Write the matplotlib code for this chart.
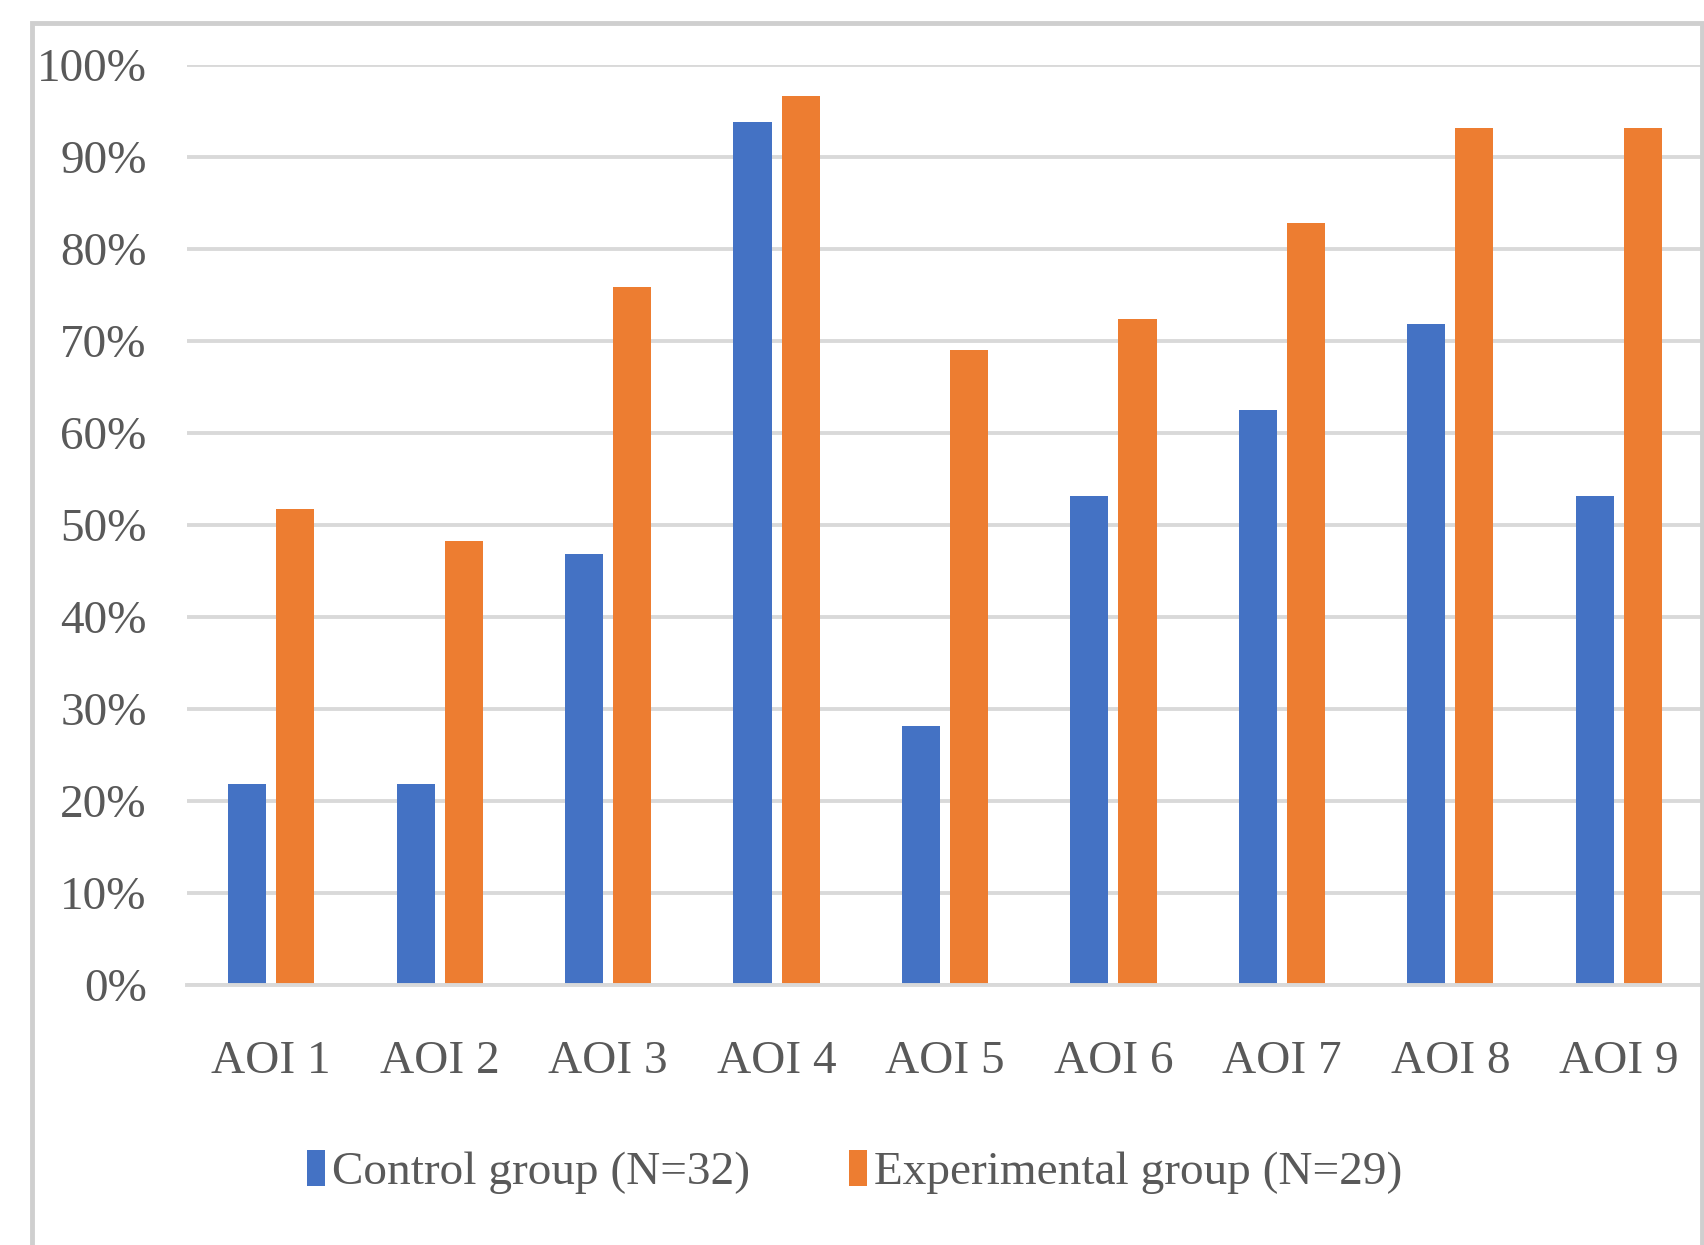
import numpy as np
import matplotlib.pyplot as plt
from matplotlib.patches import Rectangle
from matplotlib.ticker import FuncFormatter

# share of each group (%) per area of interest
aois = ["AOI 1", "AOI 2", "AOI 3", "AOI 4", "AOI 5", "AOI 6", "AOI 7", "AOI 8", "AOI 9"]
control = [21.9, 21.9, 46.9, 93.8, 28.1, 53.1, 62.5, 71.9, 53.1]
experimental = [51.7, 48.3, 75.9, 96.6, 69.0, 72.4, 82.8, 93.1, 93.1]
yticks = [0, 10, 20, 30, 40, 50, 60, 70, 80, 90, 100]

azul = "#4472C4"
laranja = "#ED7D31"
cinza_txt = "#595959"
cinza_grade = "#D9D9D9"

plt.rcParams['font.family'] = ['Liberation Serif', 'DejaVu Serif']

fig = plt.figure(figsize=(17.04, 12.45), dpi=100)
fig.patch.set_facecolor("white")

# chart area frame (open at the bottom)
moldura = Rectangle((32 / 1704, -0.05), (1702 - 32) / 1704, 1.05 - 23 / 1245,
                    transform=fig.transFigure, facecolor="none",
                    edgecolor="#CFCFCF", linewidth=3.5, zorder=0)
fig.patches.append(moldura)

ax = fig.add_axes([187 / 1704, 1 - 985 / 1245, (1703 - 187) / 1704, (985 - 65) / 1245])

x = np.arange(len(aois))
largura = 0.226
ax.bar(x - 0.143, control, width=largura, color=azul, label="Control group (N=32)", zorder=3)
ax.bar(x + 0.143, experimental, width=largura, color=laranja, label="Experimental group (N=29)", zorder=3)

ax.set_xlim(-0.5, len(aois) - 0.5)
ax.set_ylim(0, 100)
ax.set_yticks(yticks)
ax.yaxis.set_major_formatter(FuncFormatter(lambda v, p: f"{int(v)}%"))
ax.set_xticks(x)
ax.set_xticklabels(aois)

ax.grid(axis="y", color=cinza_grade, linewidth=2.8, zorder=0)
ax.set_axisbelow(True)
for lado in ["top", "right", "left"]:
    ax.spines[lado].set_visible(False)
ax.spines["bottom"].set_color(cinza_grade)
ax.spines["bottom"].set_linewidth(2.8)
ax.spines["bottom"].set_zorder(4)

ax.tick_params(axis="both", length=0, labelcolor=cinza_txt, labelsize=34)
ax.tick_params(axis="y", pad=29)
ax.tick_params(axis="x", pad=40)

fig.legend(loc="center", bbox_to_anchor=(855 / 1704, 1 - 1172 / 1245), ncol=2,
           frameon=False, fontsize=34, labelcolor=cinza_txt,
           handlelength=0.38, handleheight=0.8, handletextpad=0.15, columnspacing=2.1)

fig.savefig("out.png", dpi=100, facecolor="white")
